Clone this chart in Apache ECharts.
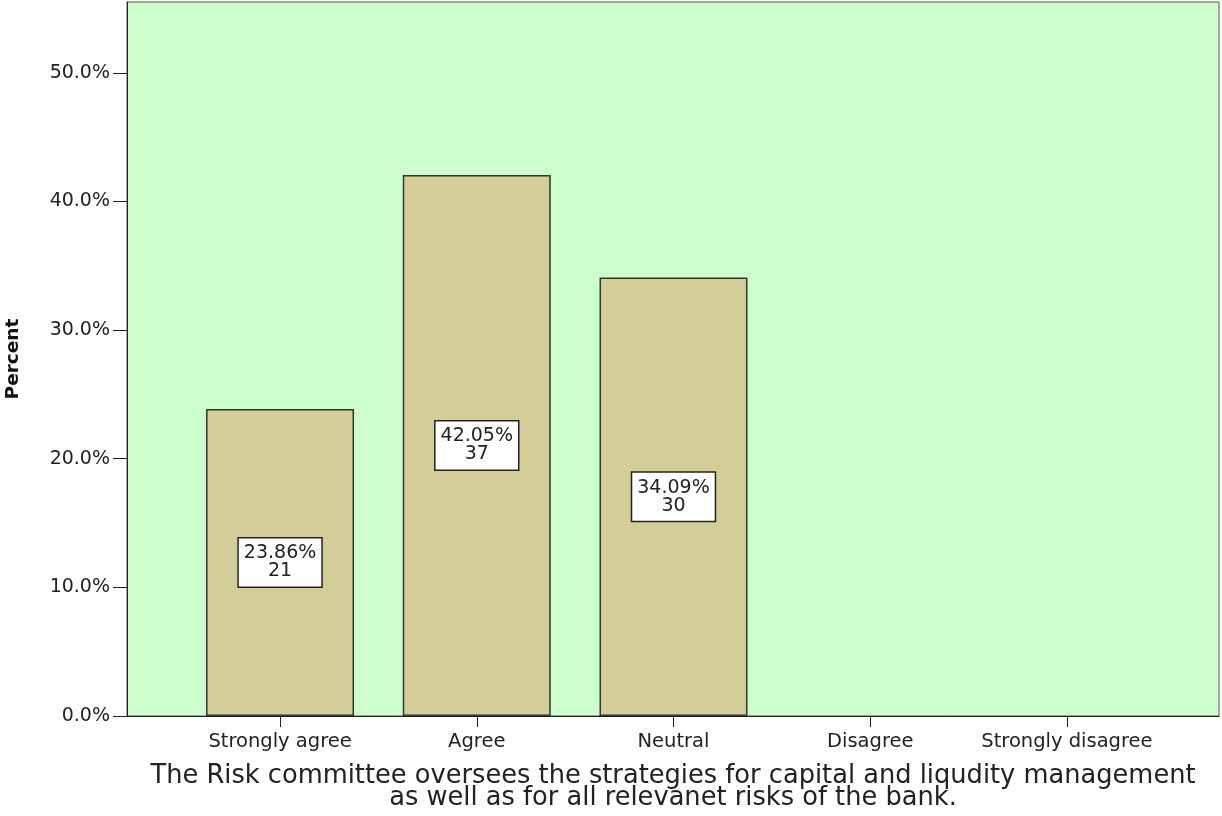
<!DOCTYPE html>
<html>
<head>
<meta charset="utf-8">
<script src="https://cdn.jsdelivr.net/npm/echarts@6/dist/echarts.min.js"></script>
<style>
  html, body { margin: 0; padding: 0; background: #fff; }
  #chart { width: 1222px; height: 816px; }
</style>
</head>
<body>
<div id="chart"></div>
<script>
// response categories and values
const categories = ['Strongly agree', 'Agree', 'Neutral', 'Disagree', 'Strongly disagree'];
const percents = [23.86, 42.05, 34.09, 0, 0];
const counts = [21, 37, 30, 0, 0];
const yTicks = [0, 10, 20, 30, 40, 50];
const xTitle = 'The Risk committee oversees the strategies for capital and liqudity management\nas well as for all relevanet risks of the bank.';

const font = 'DejaVu Sans';
const chart = echarts.init(document.getElementById('chart'));

// empty categories get no bar at all
const barData = categories
    .map((c, i) => [i, percents[i]])
    .filter(d => d[1] > 0);

chart.setOption({
    animation: false,
    textStyle: { fontFamily: font },
    grid: {
        left: 127, right: 3, top: 2, bottom: 100,
        outerBoundsMode: 'none',
        containLabel: false,
        show: true,
        backgroundColor: '#ccffcc',
        borderColor: '#555',
        borderWidth: 1
    },
    xAxis: {
        type: 'value',
        min: -0.778,
        max: 4.773,
        splitLine: { show: false },
        axisLine: { show: true, onZero: false, lineStyle: { color: '#222', width: 1 } },
        axisTick: { show: true, length: 11, customValues: [0, 1, 2, 3, 4], lineStyle: { color: '#222' } },
        axisLabel: {
            customValues: [0, 1, 2, 3, 4],
            formatter: v => categories[Math.round(v)],
            color: '#222',
            fontSize: 19.5,
            margin: 16
        },
        name: xTitle,
        nameLocation: 'middle',
        nameGap: 49,
        nameTextStyle: { fontSize: 25.7, color: '#222', lineHeight: 22, verticalAlign: 'top' }
    },
    yAxis: {
        type: 'value',
        min: 0,
        max: 55.5,
        splitLine: { show: false },
        axisLine: { show: true, onZero: false, lineStyle: { color: '#222', width: 1 } },
        axisTick: { show: true, length: 14, customValues: yTicks, lineStyle: { color: '#222' } },
        axisLabel: {
            customValues: yTicks,
            formatter: v => v.toFixed(1) + '%',
            color: '#222',
            fontSize: 19,
            margin: 17
        },
        name: 'Percent',
        nameLocation: 'middle',
        nameRotate: 90,
        nameGap: 104,
        nameTextStyle: { fontSize: 18.5, fontWeight: 'bold', color: '#111' }
    },
    series: [{
        type: 'bar',
        data: barData,
        barWidth: 148,
        itemStyle: { color: '#d3ce97', borderColor: '#333', borderWidth: 1.5 },
        label: {
            show: true,
            position: 'inside',
            formatter: p => percents[p.value[0]].toFixed(2) + '%\n' + counts[p.value[0]],
            backgroundColor: '#fff',
            borderColor: '#222',
            borderWidth: 1.5,
            padding: [6, 5, 6, 5],
            color: '#222',
            fontSize: 19,
            lineHeight: 18,
            align: 'center'
        }
    }]
});
</script>
</body>
</html>
